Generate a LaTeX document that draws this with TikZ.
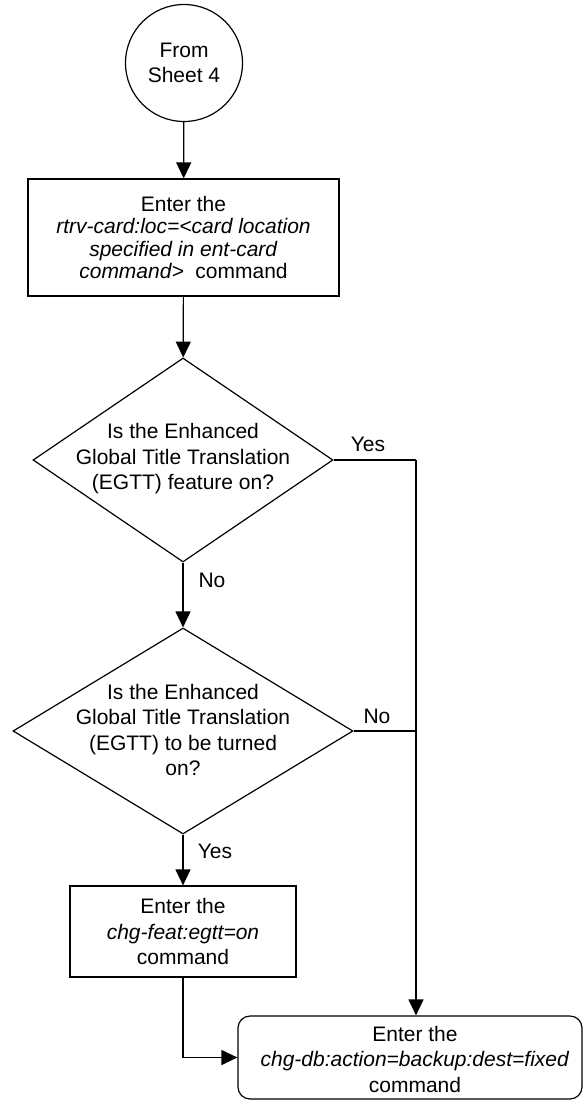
\documentclass[tikz,border=0pt]{standalone}
\usepackage{fontspec}
\setmainfont{Liberation Sans}
\usetikzlibrary{shapes.geometric,arrows.meta}
\begin{document}
\begin{tikzpicture}[x=1pt,y=-1pt,
  every node/.style={font=\fontsize{21}{25.5}\selectfont, align=center},
  line/.style={line width=1.2pt},
  arr/.style={line width=1.2pt, -{Triangle[length=16pt,width=15pt]}},
  shapebox/.style={draw, line width=1.2pt, inner sep=0pt},
  txt/.style={inner sep=0pt},
  lbl/.style={inner sep=0pt}
]
\useasboundingbox (0,0) rectangle (583,1101);
% nodes
\node[shapebox, circle, minimum size=117pt] (c) at (184,63) {From\\Sheet 4};
\node[shapebox, rectangle, minimum width=311pt, minimum height=117pt,
      font=\fontsize{21}{22.5}\selectfont] (b1) at (183.5,237.5)
  {Enter the\\\textit{rtrv-card:loc=<card location}\\\textit{specified in ent-card}\\\textit{command>}\ \ command};
\node[shapebox, diamond, minimum width=300pt, minimum height=204pt] (d1) at (183,460) {};
\node[txt] (d1t) at (183,459) {Is the Enhanced\\Global Title Translation\\(EGTT) feature on?};
\node[shapebox, diamond, minimum width=340pt, minimum height=206pt] (d2) at (183,731) {};
\node[txt] (d2t) at (183,730) {Is the Enhanced\\Global Title Translation\\(EGTT) to be turned\\on?};
\node[shapebox, rectangle, minimum width=226pt, minimum height=91pt] (b2) at (183,931.5)
  {Enter the\\\textit{chg-feat:egtt=on}\\command};
\node[shapebox, rectangle, rounded corners=12pt, minimum width=344pt, minimum height=83pt] (b3) at (410,1057.5) {};
\node[txt] (b3t) at (415,1059) {Enter the\\\textit{chg-db:action=backup:dest=fixed}\\command};
\coordinate (j1) at (416,460);
% connectors
\draw[arr] (c) -- (b1);
\draw[arr] (b1) -- (d1);
\draw[line] (d1.east) -- (j1);
\draw[arr] (j1) -- (j1 |- b3.north);
\draw[arr] (d1.south) -- (d2.north);
\draw[line] (d2.east) -- (d2.east -| j1);
\draw[arr] (d2.south) -- (b2.north);
\draw[arr] (b2.south) |- (b3.west);
% labels
\node[lbl] (lyes1) at (368,444) {Yes};
\node[lbl] (lno1) at (212,580) {No};
\node[lbl] (lno2) at (377,716) {No};
\node[lbl] (lyes2) at (215,851) {Yes};
\end{tikzpicture}
\end{document}
